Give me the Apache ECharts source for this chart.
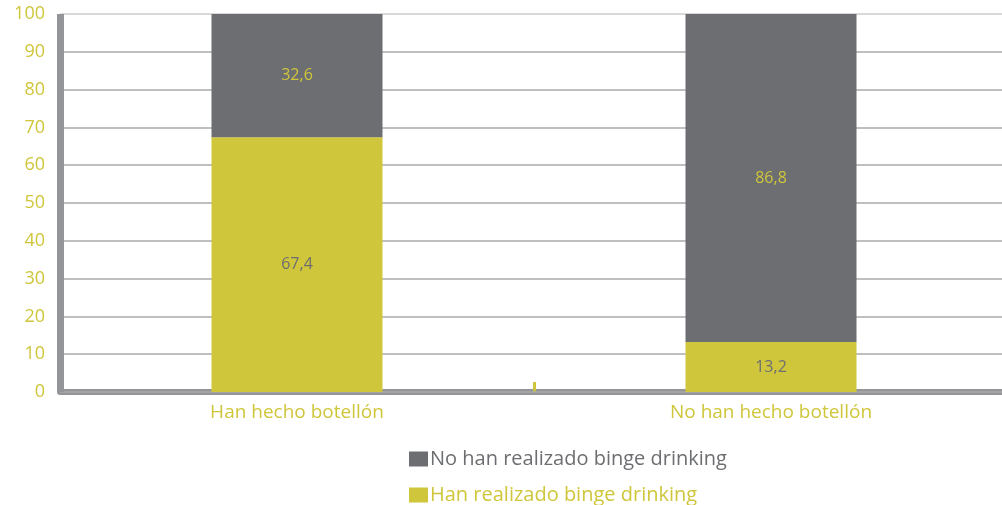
<!DOCTYPE html>
<html>
<head>
<meta charset="utf-8">
<script src="https://cdn.jsdelivr.net/npm/echarts@6/dist/echarts.min.js"></script>
<style>
  html, body { margin: 0; padding: 0; background: #fff; }
  #chart { width: 1002px; height: 505px; }
</style>
</head>
<body>
<div id="chart"></div>
<script>
var categories = ['Han hecho botellón', 'No han hecho botellón'];
var bingeYes = [67.4, 13.2];
var bingeNo = [32.6, 86.8];
var seriesNames = ['Han realizado binge drinking', 'No han realizado binge drinking'];

var yellow = '#cfc63b';
var gray = '#6d6e71';
var font = 'Open Sans';

function fmt(p) {
  return String(p.value).replace('.', ',');
}

var chart = echarts.init(document.getElementById('chart'));
var option = {
  animation: false,
  textStyle: { fontFamily: font },
  grid: { left: 60, top: 14, width: 948, height: 378, outerBoundsMode: 'none', containLabel: false },
  legend: {
    orient: 'vertical',
    left: 409,
    top: 449,
    height: 60,
    padding: 0,
    itemWidth: 19,
    itemHeight: 15,
    itemGap: 16,
    icon: 'rect',
    textStyle: { fontSize: 20, lineHeight: 20, fontFamily: font, padding: [0, 0, 0, -3] },
    data: [
      { name: seriesNames[1], textStyle: { color: gray } },
      { name: seriesNames[0], textStyle: { color: yellow } }
    ]
  },
  xAxis: {
    type: 'category',
    data: categories,
    z: 1,
    axisLine: { lineStyle: { color: '#939598', width: 6 } },
    axisTick: { show: true, inside: true, length: 10, lineStyle: { color: yellow, width: 3 } },
    axisLabel: { color: yellow, fontSize: 19, margin: 11 }
  },
  yAxis: {
    type: 'value',
    min: 0,
    max: 100,
    interval: 10,
    z: 2,
    axisLine: { show: true, lineStyle: { color: '#939598', width: 7, cap: 'butt' } },
    axisTick: { show: false },
    axisLabel: { color: yellow, fontSize: 18, margin: 15 },
    splitLine: {
      lineStyle: {
        color: ['#aaa', '#aaa', '#aaa', '#aaa', '#aaa', '#aaa', '#aaa', '#aaa', '#aaa', '#aaa', '#ccc'],
        width: 1.5
      }
    }
  },
  series: [
    {
      name: seriesNames[0],
      type: 'bar',
      stack: 'total',
      barWidth: 171,
      data: bingeYes,
      itemStyle: { color: yellow },
      label: { show: true, position: 'inside', color: gray, fontSize: 16, formatter: fmt }
    },
    {
      name: seriesNames[1],
      type: 'bar',
      stack: 'total',
      barWidth: 171,
      data: bingeNo,
      itemStyle: { color: gray },
      label: { show: true, position: 'inside', color: yellow, fontSize: 16, formatter: fmt }
    }
  ]
};
chart.setOption(option);
</script>
</body>
</html>
